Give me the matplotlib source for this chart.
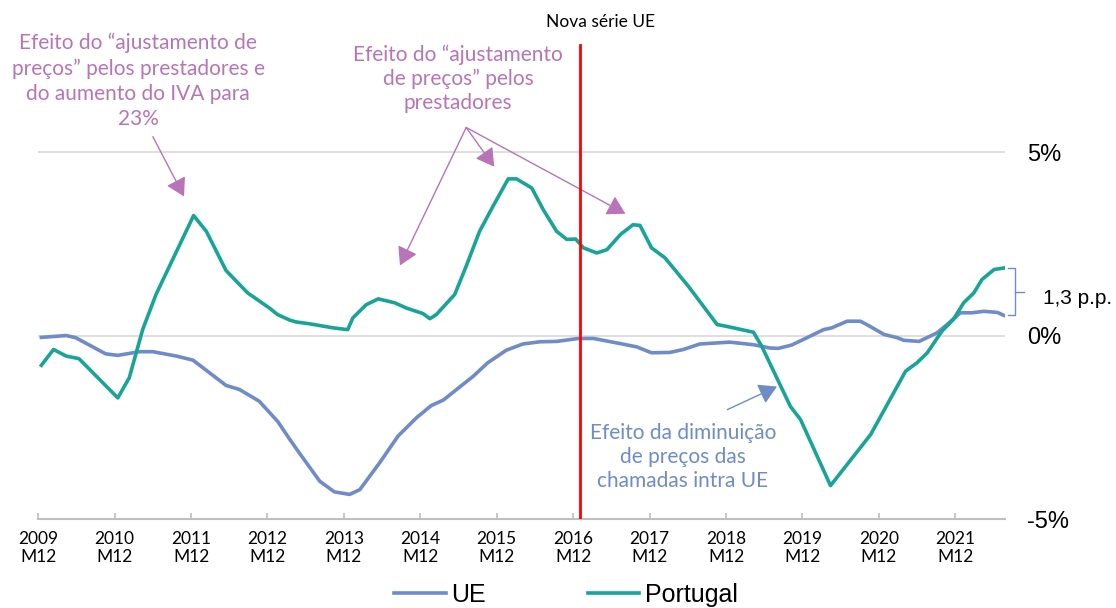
import numpy as np
import matplotlib
matplotlib.use("Agg")
import matplotlib.pyplot as plt

plt.rcParams['font.family'] = ['Lato', 'DejaVu Sans']

# Portugal: meses desde 2009M12 e variação homóloga (%)
pt_meses = [0.5, 2.4, 4.4, 6.4, 12.5, 14.3, 16.4, 18.5, 24.4, 26.4, 29.5, 32.9, 36.3, 37.6,
            39.5, 40.5, 42.6, 46.3, 48.6, 49.4, 51.5, 53.4, 56.0, 57.8, 60.4, 61.5, 62.5,
            65.4, 67.2, 69.3, 71.4, 73.8, 75.1, 77.5, 79.3, 81.4, 83.0, 84.4, 85.6, 87.7,
            89.3, 91.4, 93.4, 94.5, 96.3, 98.4, 102.1, 106.6, 108.1, 112.3, 113.6, 118.1,
            119.7, 124.4, 130.7, 136.2, 138.0, 139.6, 141.9, 143.7, 145.3, 146.9, 148.2,
            150.1, 151.6]
pt_valores = [-0.81, -0.38, -0.56, -0.63, -1.70, -1.15, 0.16, 1.12, 3.27, 2.84, 1.77, 1.16,
              0.75, 0.57, 0.42, 0.37, 0.32, 0.21, 0.16, 0.48, 0.84, 1.00, 0.89, 0.75, 0.60,
              0.46, 0.57, 1.12, 1.89, 2.84, 3.52, 4.27, 4.27, 4.02, 3.43, 2.84, 2.62, 2.63,
              2.39, 2.25, 2.34, 2.75, 3.02, 3.00, 2.39, 2.12, 1.34, 0.30, 0.25, 0.09, -0.29,
              -1.93, -2.29, -4.09, -2.70, -0.97, -0.74, -0.47, 0.12, 0.44, 0.89, 1.16, 1.53,
              1.80, 1.84]

# UE
ue_meses = [0.5, 4.4, 5.9, 10.6, 12.5, 15.9, 18.0, 21.7, 24.3, 29.5, 31.6, 34.7, 37.6, 39.5,
            41.0, 44.2, 46.5, 48.9, 50.5, 53.6, 56.5, 59.4, 61.7, 63.6, 68.3, 70.6, 73.5,
            76.1, 78.8, 81.4, 84.8, 87.2, 91.4, 94.0, 96.3, 99.2, 101.3, 103.9, 108.6,
            112.3, 114.9, 116.2, 118.3, 120.7, 123.3, 124.6, 127.0, 129.1, 130.4, 132.8,
            134.9, 135.9, 138.3, 141.1, 142.7, 144.8, 146.6, 148.5, 150.6, 151.6]
ue_valores = [-0.05, 0.00, -0.06, -0.50, -0.54, -0.44, -0.44, -0.56, -0.67, -1.36, -1.47,
              -1.79, -2.34, -2.83, -3.20, -3.97, -4.26, -4.33, -4.20, -3.47, -2.74, -2.24,
              -1.91, -1.76, -1.11, -0.74, -0.40, -0.23, -0.17, -0.16, -0.08, -0.08, -0.22,
              -0.31, -0.47, -0.46, -0.38, -0.23, -0.18, -0.25, -0.34, -0.35, -0.26, -0.06,
              0.16, 0.21, 0.39, 0.39, 0.27, 0.03, -0.06, -0.13, -0.16, 0.07, 0.30, 0.62,
              0.62, 0.66, 0.63, 0.55]

anos = list(range(2009, 2022))
nova_serie = 85  # 2017M1

cor_pt = '#18a499'
cor_ue = '#6f8bc8'
cor_roxo = '#b874b6'

W, H = 1116, 608
def px(x, y):
    return x / W, 1 - y / H

fig = plt.figure(figsize=(W / 100, H / 100), dpi=100)
ax = fig.add_axes([38.2 / W, 89 / H, (1005 - 38.2) / W, (519 - 42) / H])

ax.axhline(0, color='#d9d9d9', lw=1.2, zorder=1)
ax.axhline(5, color='#d9d9d9', lw=1.2, zorder=1)

l_ue, = ax.plot(ue_meses, ue_valores, color=cor_ue, lw=2.6, solid_joinstyle='round', zorder=3, label='UE')
l_pt, = ax.plot(pt_meses, pt_valores, color=cor_pt, lw=2.6, solid_joinstyle='round', zorder=4, label='Portugal')
ax.axvline(nova_serie, color='#ff0000', lw=2, zorder=5, ymax=0.994)

ax.set_xlim(0, 151.8)
ax.set_ylim(-5, 8)

for s in ['top', 'left', 'right']:
    ax.spines[s].set_visible(False)
ax.spines['bottom'].set_color('#bfbfbf')
ax.spines['bottom'].set_linewidth(1.5)

ax.set_xticks([12 * i for i in range(len(anos))])
ax.set_xticklabels([f'{a}\nM12' for a in anos], fontsize=12.5, linespacing=1.1)
ax.tick_params(axis='x', direction='in', length=4, color='#bfbfbf', width=1.2, pad=9)

ax.yaxis.tick_right()
ax.set_yticks([-5, 0, 5])
ax.set_yticklabels(['-5%', '0%', '5%'], fontsize=17, family='Liberation Sans')
ax.tick_params(axis='y', length=0, pad=16)

# chaveta 1,3 p.p.
y_top, y_bot = pt_valores[-1], ue_valores[-1]
tr = ax.get_yaxis_transform()
xb0, xb1, xb2 = 1.003, 1.0105, 1.0195
ax.plot([xb0, xb1, xb1, xb0], [y_top, y_top, y_bot, y_bot], color=cor_ue, lw=1, transform=tr, clip_on=False)
ym = (y_top + y_bot) / 2
ax.plot([xb1, xb2], [ym, ym], color=cor_ue, lw=1, transform=tr, clip_on=False)
fig.text(*px(1043, 299), f'{abs(y_top - y_bot):.1f} p.p.'.replace('.', ',', 1),
         fontsize=15, family='Liberation Sans', va='center', ha='left')

# anotações
fig.text(*px(601, 22), 'Nova série UE', fontsize=12.5, ha='center', va='center', color='black')

fig.text(*px(138, 81), 'Efeito do “ajustamento de\npreços” pelos prestadores e\ndo aumento do IVA para\n23%',
         fontsize=15, color=cor_roxo, ha='center', va='center', linespacing=1.32)
fig.text(*px(458, 79), 'Efeito do “ajustamento\nde preços” pelos\nprestadores',
         fontsize=15, color=cor_roxo, ha='center', va='center', linespacing=1.25)
fig.text(*px(683, 457), 'Efeito da diminuição\nde preços das\nchamadas intra UE',
         fontsize=15, color=cor_ue, ha='center', va='center', linespacing=1.23)

estilo = dict(arrowstyle='-|>,head_length=0.55,head_width=0.32', lw=1, shrinkA=0, shrinkB=0,
              mutation_scale=20)
ax.annotate('', xy=(22.9, 3.79), xytext=(18.0, 5.42), annotation_clip=False,
            arrowprops=dict(color=cor_roxo, **estilo))
for alvo in [(56.8, 1.91), (71.6, 4.6), (92.2, 3.32)]:
    ax.annotate('', xy=alvo, xytext=(67.2, 5.67), annotation_clip=False,
                arrowprops=dict(color=cor_roxo, **estilo))
ax.annotate('', xy=(116.0, -1.39), xytext=(108.2, -2.02), annotation_clip=False,
            arrowprops=dict(color=cor_ue, **estilo))

fig.legend(handles=[l_ue, l_pt], loc='center', bbox_to_anchor=px(566, 595), ncol=2,
           frameon=False, prop={'family': 'Liberation Sans', 'size': 18},
           handlelength=2.05, handletextpad=0.22, columnspacing=4.1)

fig.savefig('out.png', dpi=100)
